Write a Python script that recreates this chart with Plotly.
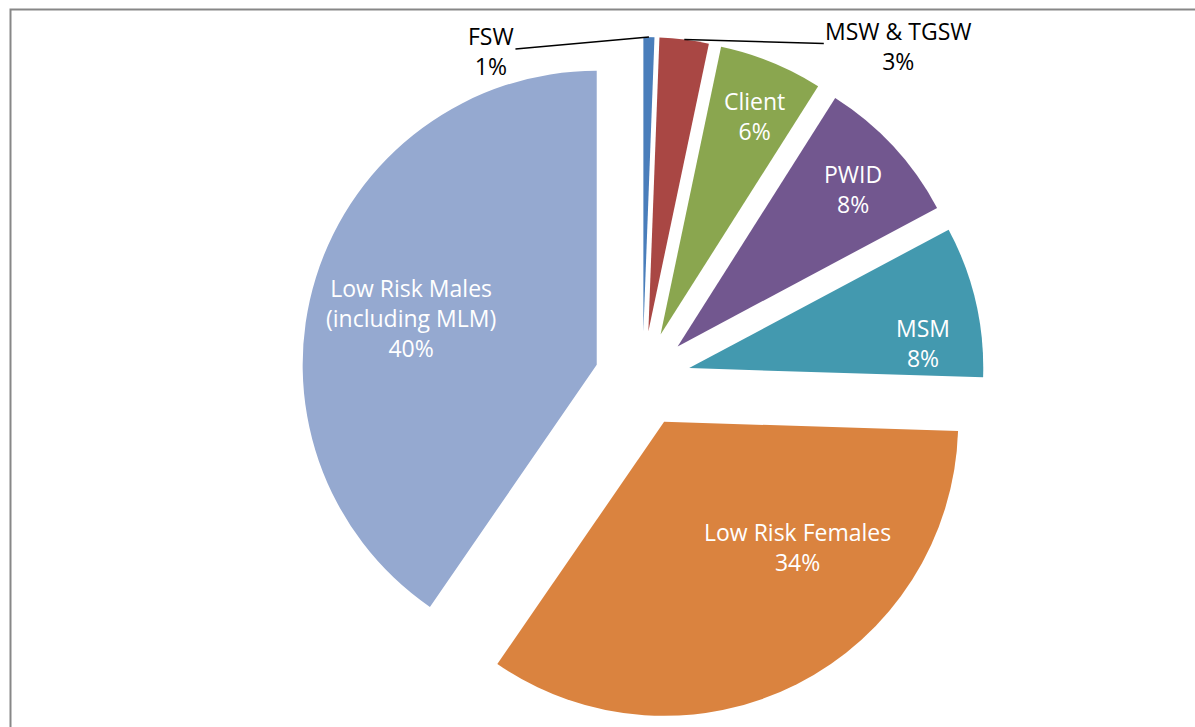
import math
import plotly.graph_objects as go

# ---- data ----
labels = ["FSW", "MSW & TGSW", "Client", "PWID", "MSM",
          "Low Risk Females", "Low Risk Males<br>(including MLM)"]
values = [0.6, 2.7, 5.7, 8.2, 8.3, 34.1, 40.4]
colors = ["#4A7EBB", "#A94744", "#8AA64F", "#72578F", "#4399AF", "#DA833F", "#95A9D0"]
outside_labels = [True, True, False, False, False, False, False]

# label placement style: (radial fraction, angle offset deg) for inside labels,
# (dx, dy) pixel offset for outside labels
inside_place = {2: (0.81, 1), 3: (0.80, 1), 4: (0.80, 7), 5: (0.62, -20), 6: (0.65, -3)}
outside_place = {0: (-158, 14), 1: (214, 6)}

W, H = 1195, 727
PULL = 0.163
CX, CY = 642.5, 379.0          # pie centre in pixels (from top-left)
HALF = 342.0                   # half-size of pie domain (outer extent incl. pull)
dom_x = [(CX - HALF) / W, (CX + HALF) / W]
dom_y = [(H - CY - HALF) / H, (H - CY + HALF) / H]
FONT = "Open Sans"
FS = 23

fig = go.Figure(go.Pie(
    labels=labels,
    values=values,
    sort=False,
    direction="clockwise",
    rotation=0,
    pull=[PULL] * len(values),
    marker=dict(colors=colors, line=dict(width=0)),
    textinfo="none",
    domain=dict(x=dom_x, y=dom_y),
    showlegend=False,
    hoverinfo="label+percent",
))

total = sum(values)
r = HALF / (1 + PULL)
p = PULL * r
cum = 0.0
annotations = []
for i, v in enumerate(values):
    mid = (cum + v / 2) / total * 2 * math.pi
    cum += v
    pct = round(v / total * 100)
    text = f"{labels[i]}<br>{pct}%"
    if outside_labels[i]:
        tx = CX + HALF * math.sin(mid)
        ty = CY - HALF * math.cos(mid)
        ax, ay = outside_place[i]
        annotations.append(dict(
            x=tx / W, y=1 - ty / H, xref="paper", yref="paper",
            text=text,
            showarrow=True, arrowhead=0, arrowwidth=1.5, arrowcolor="black",
            ax=ax, ay=ay, axref="pixel", ayref="pixel", standoff=0,
            font=dict(color="black", size=FS, family=FONT),
            align="center",
        ))
    else:
        frac, dth = inside_place[i]
        a = mid + math.radians(dth)
        px = CX + p * math.sin(mid) + frac * r * math.sin(a)
        py = CY - p * math.cos(mid) - frac * r * math.cos(a)
        annotations.append(dict(
            x=px / W, y=1 - py / H, xref="paper", yref="paper",
            text=text, showarrow=False,
            font=dict(color="white", size=FS, family=FONT),
            align="center", xanchor="center", yanchor="middle",
        ))

fig.update_layout(
    width=W, height=H,
    margin=dict(l=0, r=0, t=0, b=0),
    paper_bgcolor="white",
    plot_bgcolor="white",
    annotations=annotations,
    shapes=[dict(type="rect", xref="paper", yref="paper",
                 x0=10.5 / W, x1=1.02, y0=-0.02, y1=1 - 9.5 / H,
                 line=dict(color="#878787", width=2), fillcolor="rgba(0,0,0,0)")],
)

fig.write_html("out.html", config={"displayModeBar": False},
               post_script="document.body.style.margin='0';")
